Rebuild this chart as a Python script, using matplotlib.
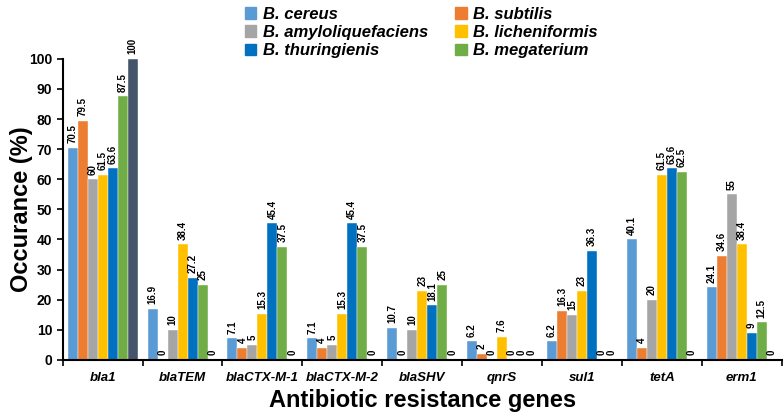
import numpy as np
import matplotlib
matplotlib.use("Agg")
import matplotlib.pyplot as plt
from matplotlib.patches import Patch

plt.rcParams["font.family"] = ["Liberation Sans", "DejaVu Sans"]

genes = ["bla1", "blaTEM", "blaCTX-M-1", "blaCTX-M-2", "blaSHV", "qnrS", "sul1", "tetA", "erm1"]
cereus = [70.5, 16.9, 7.1, 7.1, 10.7, 6.2, 6.2, 40.1, 24.1]
subtilis = [79.5, 0, 4, 4, 0, 2, 16.3, 4, 34.6]
amylo = [60, 10, 5, 5, 10, 0, 15, 20, 55]
lichen = [61.5, 38.4, 15.3, 15.3, 23, 7.6, 23, 61.5, 38.4]
thuring = [63.6, 27.2, 45.4, 45.4, 18.1, 0, 36.3, 63.6, 9]
megat = [87.5, 25, 37.5, 37.5, 25, 0, 0, 62.5, 12.5]
other = [100, 0, 0, 0, 0, 0, 0, 0, 0]

series = [
    ("B. cereus", cereus, "#5B9BD5"),
    ("B. subtilis", subtilis, "#ED7D31"),
    ("B. amyloliquefaciens", amylo, "#A5A5A5"),
    ("B. licheniformis", lichen, "#FFC000"),
    ("B. thuringienis", thuring, "#0070C0"),
    ("B. megaterium", megat, "#70AD47"),
    (None, other, "#44546A"),
]

fig = plt.figure(figsize=(7.84, 4.17), dpi=100)
ax = fig.add_axes([0.080, 0.137, 0.917, 0.722])

x = np.arange(len(genes))
w = 0.125
for k, (lab, vals, col) in enumerate(series):
    xs = x - 3 * w + k * w
    ax.bar(xs, vals, width=w, color=col, edgecolor="white", linewidth=0.3)
    for xi, v in zip(xs, vals):
        ax.text(xi, v + 1.5, "%g" % v, rotation=90, ha="center", va="bottom",
                fontsize=7, fontweight="bold", clip_on=False)

ax.set_xlim(-0.5, len(genes) - 0.5)
ax.set_ylim(0, 100)
ax.set_yticks(np.arange(0, 101, 10))
ax.set_xticks(x)
ax.set_xticklabels(genes, fontstyle="italic", fontweight="bold", fontsize=9.5)
ax.set_xticks(np.arange(-0.5, len(genes), 1), minor=True)
ax.tick_params(axis="x", which="major", length=0, pad=9)
ax.tick_params(axis="x", which="minor", length=4, width=1.2, direction="out")
ax.tick_params(axis="y", length=4, width=1.2, labelsize=10)
for t in ax.get_yticklabels():
    t.set_fontweight("bold")
for s in ("top", "right"):
    ax.spines[s].set_visible(False)
ax.spines["left"].set_linewidth(1.5)
ax.spines["bottom"].set_linewidth(1.5)

ax.set_ylabel("Occurance (%)", fontsize=17, fontweight="bold")
ax.yaxis.set_label_coords(-0.042, 0.5)
ax.set_xlabel("Antibiotic resistance genes", fontsize=17, fontweight="bold", labelpad=3)

order = [0, 2, 4, 1, 3, 5]
handles = [Patch(color=series[i][2], label=series[i][0]) for i in order]
fig.legend(handles=handles, loc="upper left", bbox_to_anchor=(0.293, 1.02), ncol=2,
           frameon=False, prop=dict(weight="bold", style="italic", size=12),
           handlelength=0.7, handleheight=0.7, handletextpad=0.4,
           labelspacing=0.2, columnspacing=1.6)

fig.savefig("out.png", dpi=100)
